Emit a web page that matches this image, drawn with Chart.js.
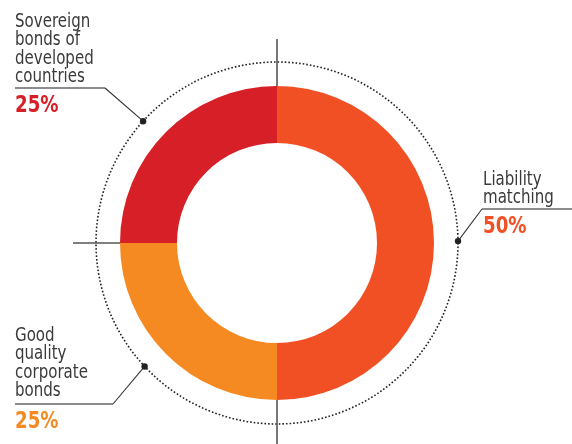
<!DOCTYPE html>
<html>
<head>
<meta charset="utf-8">
<script src="https://cdn.jsdelivr.net/npm/chart.js@4.4.1/dist/chart.umd.min.js"></script>
<style>
  html, body { margin: 0; padding: 0; background: #fff; }
  #wrap { width: 572px; height: 444px; position: relative; }
</style>
</head>
<body>
<div id="wrap"><canvas id="chart"></canvas></div>
<script>
// data, clockwise from 12 o'clock
const categories = ['Liability matching', 'Good quality corporate bonds', 'Sovereign bonds of developed countries'];
const shares = [50, 25, 25];
const sliceColors = ['#F15025', '#F58A23', '#D71F27'];

// label text split in lines as printed
const labelLines = [
  ['Liability', 'matching'],
  ['Good', 'quality', 'corporate', 'bonds'],
  ['Sovereign', 'bonds of', 'developed', 'countries']
];

const FONT = '"Liberation Sans Narrow", "DejaVu Sans Condensed", "Roboto", sans-serif';
const TEXT = '#3a3a3a';
const SQUEEZE = 0.88; // reference face is narrower than what we have

// where each callout sits (x of text, baseline of first line, underline y/end, knee x, angle of dot on dotted ring)
const callouts = [
  { x: 483, y: 185, ulY: 209, ulFrom: 482, ulTo: 572, knee: 482, angle: -0.6 },
  { x: 15, y: 341, ulY: 404, ulFrom: 15, ulTo: 113, knee: 113, angle: 137 },
  { x: 15, y: 27, ulY: 88, ulFrom: 15, ulTo: 105, knee: 105, angle: -137.7 }
];

function narrowText(ctx, text, x, y) {
  ctx.save();
  ctx.translate(x, y);
  ctx.scale(SQUEEZE, 1);
  ctx.fillText(text, 0, 0);
  ctx.restore();
}

const decorations = {
  id: 'decorations',
  afterDraw(chart) {
    const ctx = chart.ctx;
    const arc = chart.getDatasetMeta(0).data[0];
    const cx = arc.x, cy = arc.y, outer = arc.outerRadius;
    const ring = outer + 24;

    ctx.save();
    // dotted ring
    ctx.strokeStyle = '#222';
    ctx.lineWidth = 1.6;
    ctx.setLineDash([1.6, 2.0]);
    ctx.beginPath();
    ctx.arc(cx, cy, ring, 0, Math.PI * 2);
    ctx.stroke();
    ctx.setLineDash([]);

    // slice boundary ticks
    ctx.strokeStyle = '#555';
    ctx.lineWidth = 1.6;
    let a = -Math.PI / 2;
    const total = shares.reduce((s, v) => s + v, 0);
    shares.forEach(v => {
      ctx.beginPath();
      ctx.moveTo(cx + Math.cos(a) * outer, cy + Math.sin(a) * outer);
      ctx.lineTo(cx + Math.cos(a) * (outer + 47), cy + Math.sin(a) * (outer + 47));
      ctx.stroke();
      a += v / total * Math.PI * 2;
    });

    // callouts
    callouts.forEach((c, i) => {
      const rad = c.angle * Math.PI / 180;
      const dx = cx + Math.cos(rad) * ring, dy = cy + Math.sin(rad) * ring;

      ctx.strokeStyle = '#333';
      ctx.lineWidth = 1.1;
      ctx.beginPath();
      ctx.moveTo(dx, dy);
      ctx.lineTo(c.knee, c.ulY);
      ctx.stroke();

      ctx.strokeStyle = '#666';
      ctx.lineWidth = 1.6;
      ctx.beginPath();
      ctx.moveTo(c.ulFrom, c.ulY);
      ctx.lineTo(c.ulTo, c.ulY);
      ctx.stroke();

      ctx.fillStyle = '#222';
      ctx.beginPath();
      ctx.arc(dx, dy, 3.2, 0, Math.PI * 2);
      ctx.fill();

      ctx.fillStyle = TEXT;
      ctx.font = '19px ' + FONT;
      ctx.textBaseline = 'alphabetic';
      ctx.textAlign = 'left';
      labelLines[i].forEach((t, j) => narrowText(ctx, t, c.x, c.y + j * 18.3));

      ctx.fillStyle = sliceColors[i];
      ctx.font = 'bold 23px ' + FONT;
      narrowText(ctx, shares[i] + '%', c.x, c.ulY + 23.5);
    });
    ctx.restore();
  }
};

new Chart(document.getElementById('chart'), {
  type: 'doughnut',
  data: {
    labels: categories,
    datasets: [{ data: shares, backgroundColor: sliceColors, borderWidth: 0, hoverOffset: 0 }]
  },
  options: {
    responsive: true,
    maintainAspectRatio: false,
    animation: false,
    cutout: '63.7%',
    layout: { padding: { left: 120, right: 138, top: 86, bottom: 44 } },
    plugins: { legend: { display: false }, tooltip: { enabled: false } }
  },
  plugins: [decorations]
});
</script>
</body>
</html>
